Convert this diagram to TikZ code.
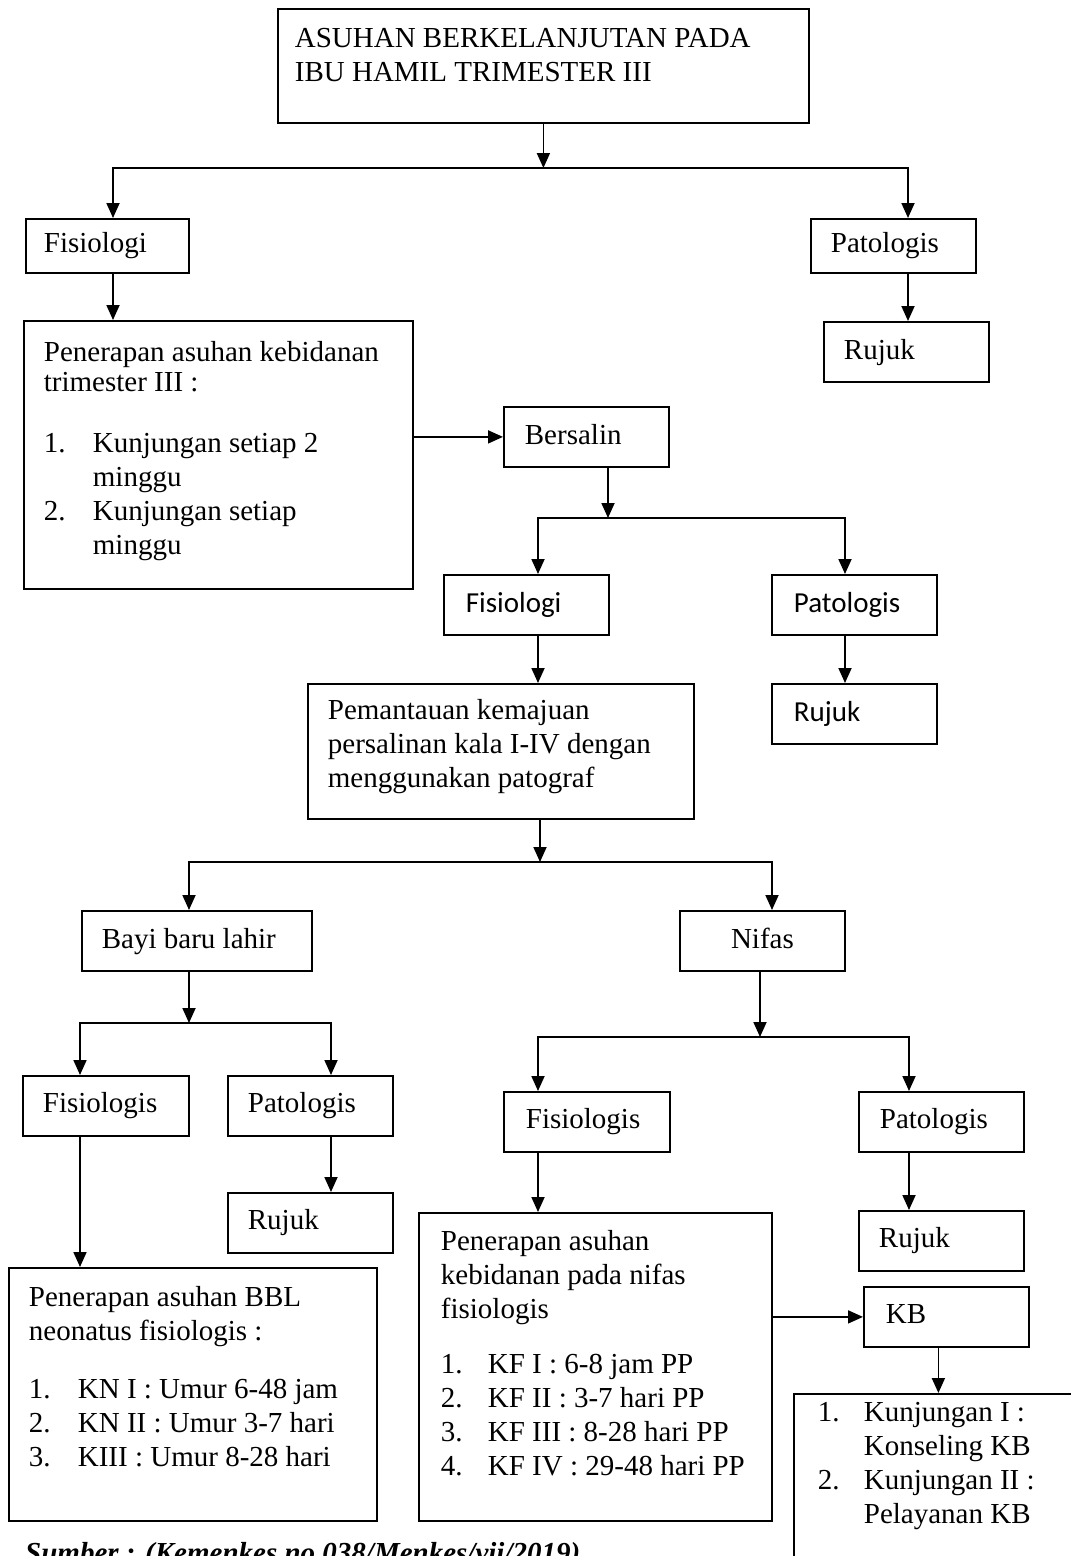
\documentclass[tikz,border=0pt]{standalone}
\usepackage{fontspec}
\setmainfont{Liberation Serif}
\newfontfamily\calibri{Carlito}
\usetikzlibrary{arrows.meta, positioning}
\newcommand{\itm}[2]{\makebox[#1][l]{#2}}

\begin{document}
\begin{tikzpicture}[
  x=1pt, y=-1pt,
  bx/.style={draw, line width=1.8pt, anchor=north west, align=left,
             inner ysep=0pt, font=\fontsize{29}{34}\selectfont,
             execute at begin node={\spaceskip=0pt\xspaceskip=0pt}},
  sf/.style={font=\fontsize{29}{34}\calibri},
  ln/.style={line width=1.8pt, line cap=rect},
  arr/.style={ln, -{Triangle[length=15pt, width=13pt]}}
]
  \useasboundingbox (0,0) rectangle (1071,1556);

  % Kehamilan
  \node[bx, inner xsep=17pt, text width=497pt, text height=39pt, text depth=75pt] (title) at (277,8)
    {ASUHAN BERKELANJUTAN PADA\\IBU HAMIL TRIMESTER III};
  \node[bx, inner xsep=18pt, text width=127pt, text height=34pt, text depth=20pt] (fis1) at (25,218) {Fisiologi};
  \node[bx, inner xsep=20pt, text width=125pt, text height=34pt, text depth=20pt] (pat1) at (810,218) {Patologis};
  \node[bx, inner xsep=20pt, text width=349pt, text height=41pt, text depth=227pt] (asuh1) at (23,320)
    {Penerapan asuhan kebidanan\\[-4pt]trimester III :\\[27pt]
     \itm{49pt}{1.}Kunjungan setiap 2\\\hspace*{49pt}minggu\\
     \itm{49pt}{2.}Kunjungan setiap\\\hspace*{49pt}minggu};
  \node[bx, inner xsep=20pt, text width=125pt, text height=38pt, text depth=22pt] (rujuk1) at (823,321) {Rujuk};

  % Persalinan
  \node[bx, inner xsep=21pt, text width=123pt, text height=38pt, text depth=22pt] (bers) at (503,406) {Bersalin};
  \node[bx, sf, inner xsep=22pt, text width=121pt, text height=38pt, text depth=22pt] (fis2) at (443,574) {Fisiologi};
  \node[bx, sf, inner xsep=22pt, text width=121pt, text height=38pt, text depth=22pt] (pat2) at (771,574) {Patologis};
  \node[bx, sf, inner xsep=22pt, text width=121pt, text height=38pt, text depth=22pt] (rujuk2) at (771,683) {Rujuk};
  \node[bx, inner xsep=20pt, text width=346pt, text height=36pt, text depth=99pt] (pem) at (307,683)
    {Pemantauan kemajuan\\persalinan kala I-IV dengan\\menggunakan patograf};

  % BBL dan nifas
  \node[bx, inner xsep=20pt, text width=190pt, text height=38pt, text depth=22pt] (bayi) at (81,910) {Bayi baru lahir};
  \node[bx, align=center, inner xsep=20pt, text width=125pt, text height=38pt, text depth=22pt] (nifas) at (679,910) {Nifas};

  \node[bx, inner xsep=20pt, text width=126pt, text height=37pt, text depth=23pt] (fisB) at (22,1075) {Fisiologis};
  \node[bx, inner xsep=20pt, text width=125pt, text height=37pt, text depth=23pt] (patB) at (227,1075) {Patologis};
  \node[bx, inner xsep=20pt, text width=125pt, text height=37pt, text depth=23pt] (rujukB) at (227,1192) {Rujuk};
  \node[bx, inner xsep=20pt, text width=328pt, text height=39pt, text depth=214pt] (bbl) at (8,1267)
    {Penerapan asuhan BBL\\neonatus fisiologis :\\[24pt]
     \itm{49pt}{1.}KN I : Umur 6-48 jam\\
     \itm{49pt}{2.}KN II : Umur 3-7 hari\\
     \itm{49pt}{3.}KIII : Umur 8-28 hari};

  \node[bx, inner xsep=22pt, text width=122pt, text height=37pt, text depth=23pt] (fisN) at (503,1091) {Fisiologis};
  \node[bx, inner xsep=21pt, text width=123pt, text height=37pt, text depth=23pt] (patN) at (858,1091) {Patologis};
  \node[bx, inner xsep=20pt, text width=125pt, text height=37pt, text depth=23pt] (rujukN) at (858,1210) {Rujuk};
  \node[bx, inner xsep=22pt, text width=309pt, text height=38pt, text depth=270pt] (asuhN) at (418,1212)
    {Penerapan asuhan\\kebidanan pada nifas\\fisiologis\\[21pt]
     \itm{47pt}{1.}KF I : 6-8 jam PP\\
     \itm{47pt}{2.}KF II : 3-7 hari PP\\
     \itm{47pt}{3.}KF III : 8-28 hari PP\\
     \itm{47pt}{4.}KF IV : 29-48 hari PP};
  \node[bx, inner xsep=22pt, text width=121pt, text height=37pt, text depth=23pt] (kb) at (863,1286) {KB};
  \node[bx, inner xsep=24pt, text width=252pt, text height=28pt, text depth=172pt] (kbl) at (793,1393)
    {\itm{46pt}{1.}Kunjungan I :\\\hspace*{46pt}Konseling KB\\
     \itm{46pt}{2.}Kunjungan II :\\\hspace*{46pt}Pelayanan KB};

  \node[anchor=base west, inner sep=0pt, font=\fontsize{29}{34}\selectfont\bfseries\itshape] (src) at (25,1562)
    {Sumber : (Kemenkes no 038/Menkes/vii/2019)};

  % Cabang
  \coordinate (j1l) at (113,168);
  \coordinate (j1r) at (908,168);
  \coordinate (j2) at (608,518);
  \coordinate (j2l) at (538,518);
  \coordinate (j2r) at (845,518);
  \coordinate (j3) at (540,862);
  \coordinate (j3l) at (189,862);
  \coordinate (j3r) at (772,862);
  \coordinate (j4) at (189,1023);
  \coordinate (j4l) at (80,1023);
  \coordinate (j4r) at (331,1023);
  \coordinate (j5) at (760,1037);
  \coordinate (j5l) at (538,1037);
  \coordinate (j5r) at (909,1037);

  \draw[arr] (title) -- (title |- j1l);
  \draw[ln] (j1l) -- (j1r);
  \draw[arr] (j1l) -- (j1l |- fis1.north);
  \draw[arr] (j1r) -- (j1r |- pat1.north);
  \draw[arr] (j1l |- fis1.south) -- (j1l |- asuh1.north);
  \draw[arr] (j1r |- pat1.south) -- (j1r |- rujuk1.north);
  \draw[arr] (asuh1.east |- bers.west) -- (bers.west);

  \draw[arr] (j2 |- bers.south) -- (j2);
  \draw[ln] (j2l) -- (j2r);
  \draw[arr] (j2l) -- (j2l |- fis2.north);
  \draw[arr] (j2r) -- (j2r |- pat2.north);
  \draw[arr] (j2l |- fis2.south) -- (j2l |- pem.north);
  \draw[arr] (j2r |- pat2.south) -- (j2r |- rujuk2.north);

  \draw[arr] (j3 |- pem.south) -- (j3);
  \draw[ln] (j3l) -- (j3r);
  \draw[arr] (j3l) -- (j3l |- bayi.north);
  \draw[arr] (j3r) -- (j3r |- nifas.north);

  \draw[arr] (j4 |- bayi.south) -- (j4);
  \draw[ln] (j4l) -- (j4r);
  \draw[arr] (j4l) -- (j4l |- fisB.north);
  \draw[arr] (j4r) -- (j4r |- patB.north);
  \draw[arr] (j4r |- patB.south) -- (j4r |- rujukB.north);
  \draw[arr] (j4l |- fisB.south) -- (j4l |- bbl.north);

  \draw[arr] (j5 |- nifas.south) -- (j5);
  \draw[ln] (j5l) -- (j5r);
  \draw[arr] (j5l) -- (j5l |- fisN.north);
  \draw[arr] (j5r) -- (j5r |- patN.north);
  \draw[arr] (j5l |- fisN.south) -- (j5l |- asuhN.north);
  \draw[arr] (j5r |- patN.south) -- (j5r |- rujukN.north);
  \draw[arr] (asuhN.east |- kb.west) -- (kb.west);
  \draw[arr] ([xshift=-8pt]kb.south) -- ([xshift=-8pt]kb.south |- kbl.north);
\end{tikzpicture}
\end{document}
